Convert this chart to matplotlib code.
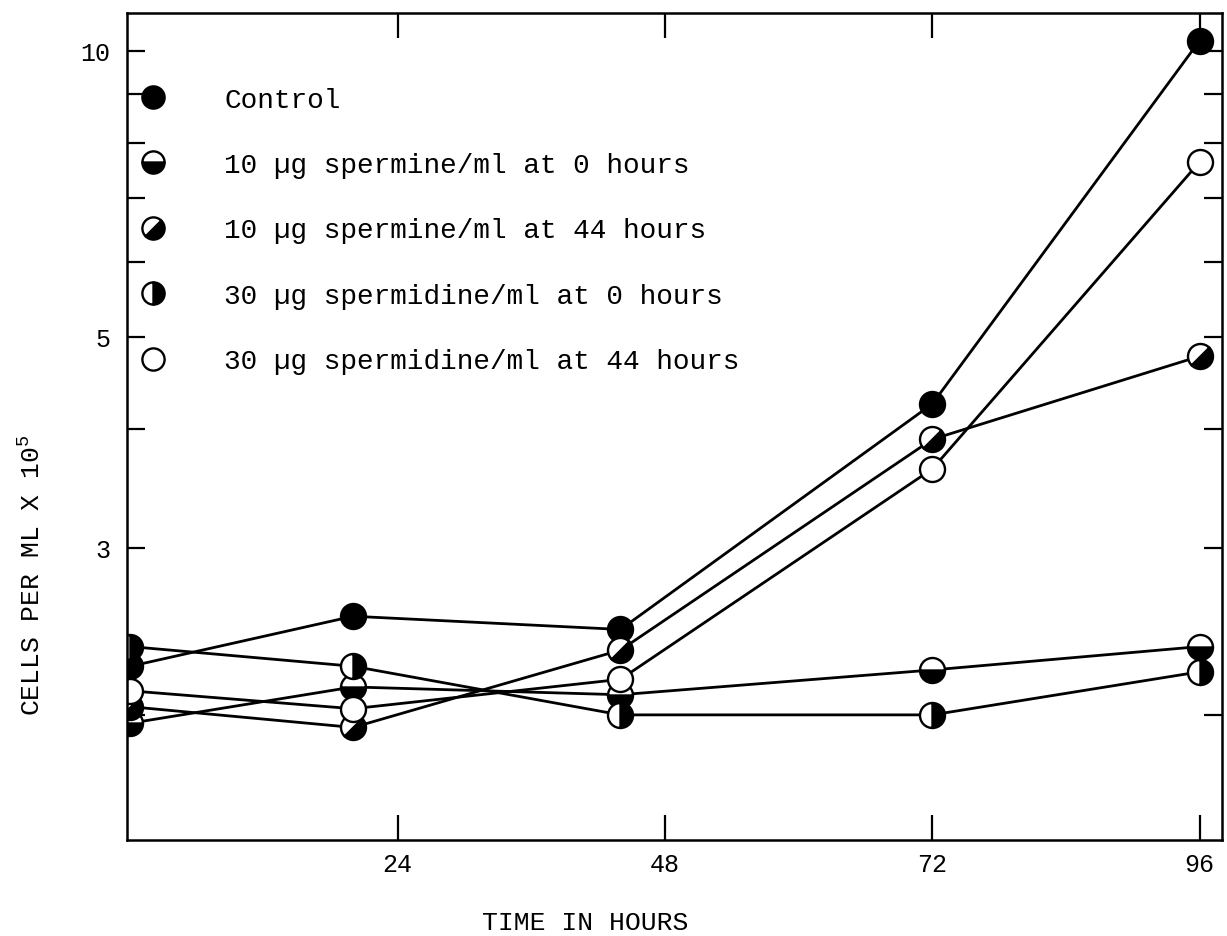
import matplotlib
matplotlib.use("Agg")
import matplotlib.pyplot as plt
from matplotlib.lines import Line2D
from matplotlib.markers import MarkerStyle
from matplotlib.transforms import Affine2D
from matplotlib.ticker import FixedLocator, FixedFormatter, NullFormatter

# ── Fonts (typewriter look) ───────────────────────────────────────────────────
plt.rcParams["font.family"] = ["Liberation Mono", "DejaVu Sans Mono"]
plt.rcParams["mathtext.fontset"] = "custom"
plt.rcParams["mathtext.rm"] = "Liberation Mono"

# ── Data (cells per ml x 10^5) ────────────────────────────────────────────────
hours = [0, 20, 44, 72, 96]
control = [2.25, 2.54, 2.46, 4.25, 10.25]
spermine_0h = [1.96, 2.14, 2.10, 2.23, 2.36]
spermine_44h = [2.04, 1.94, 2.34, 3.90, 4.77]
spermidine_0h = [2.36, 2.25, 2.00, 2.00, 2.22]
spermidine_44h = [2.12, 2.03, 2.18, 3.63, 7.64]

labels = [
    "Control",
    "10 µg spermine/ml at 0 hours",
    "10 µg spermine/ml at 44 hours",
    "30 µg spermidine/ml at 0 hours",
    "30 µg spermidine/ml at 44 hours",
]
series = [control, spermine_0h, spermine_44h, spermidine_0h, spermidine_44h]

x_ticks = [24, 48, 72, 96]
y_major = [3, 5, 10]
y_minor = [2, 4, 6, 7, 8, 9]

# ── Marker styles ─────────────────────────────────────────────────────────────
diag = MarkerStyle("o", fillstyle="right", transform=Affine2D().rotate_deg(-45))
styles = [
    dict(marker="o", markerfacecolor="black"),
    dict(marker=MarkerStyle("o", fillstyle="bottom"), markerfacecolor="black",
         markerfacecoloralt="white"),
    dict(marker=diag, markerfacecolor="black", markerfacecoloralt="white"),
    dict(marker=MarkerStyle("o", fillstyle="right"), markerfacecolor="black",
         markerfacecoloralt="white"),
    dict(marker="o", markerfacecolor="white"),
]
common = dict(color="black", markeredgecolor="black", markeredgewidth=1.7)

# ── Figure ────────────────────────────────────────────────────────────────────
fig = plt.figure(figsize=(12.27, 9.37), dpi=100)
ax = fig.add_axes([0.1035, 0.1025, 0.8924, 0.8826])

for vals, st in zip(series, styles):
    ax.plot(hours, vals, linewidth=2.0, markersize=18, **common, **st)

ax.set_yscale("log")
ax.set_xlim(-0.3, 98)
ax.set_ylim(1.477, 10.96)

ax.yaxis.set_major_locator(FixedLocator(y_major))
ax.yaxis.set_major_formatter(FixedFormatter([str(v) for v in y_major]))
ax.yaxis.set_minor_locator(FixedLocator(y_minor))
ax.yaxis.set_minor_formatter(NullFormatter())
ax.set_xticks(x_ticks)
ax.set_xticklabels([str(v) for v in x_ticks])

ax.tick_params(axis="y", which="both", direction="in", left=True, right=True,
               length=13, width=1.6, labelsize=18, pad=12)
ax.tick_params(axis="x", which="both", direction="in", top=True, bottom=True,
               length=18, width=1.6, labelsize=18, pad=9)
for sp in ax.spines.values():
    sp.set_linewidth(1.8)

# ── Legend (markers only) ─────────────────────────────────────────────────────
handles = [Line2D([], [], linestyle="none", markersize=16, **common, **st)
           for st in styles]
ax.legend(handles, labels, loc="upper left", bbox_to_anchor=(0.011, 0.911),
          frameon=False, handlelength=1.0, handletextpad=2.07, labelspacing=1.42,
          borderpad=0, borderaxespad=0, fontsize=20, numpoints=1)

# ── Axis titles ───────────────────────────────────────────────────────────────
fig.text(585 / 1227, 1 - 923 / 937, "TIME IN HOURS", fontsize=19,
         ha="center", va="center")
fig.text(32 / 1227, 1 - 575 / 937, "CELLS PER ML X 10$^{5}$", fontsize=19,
         ha="center", va="center", rotation=90)

fig.savefig("out.png", dpi=100, facecolor="white")
